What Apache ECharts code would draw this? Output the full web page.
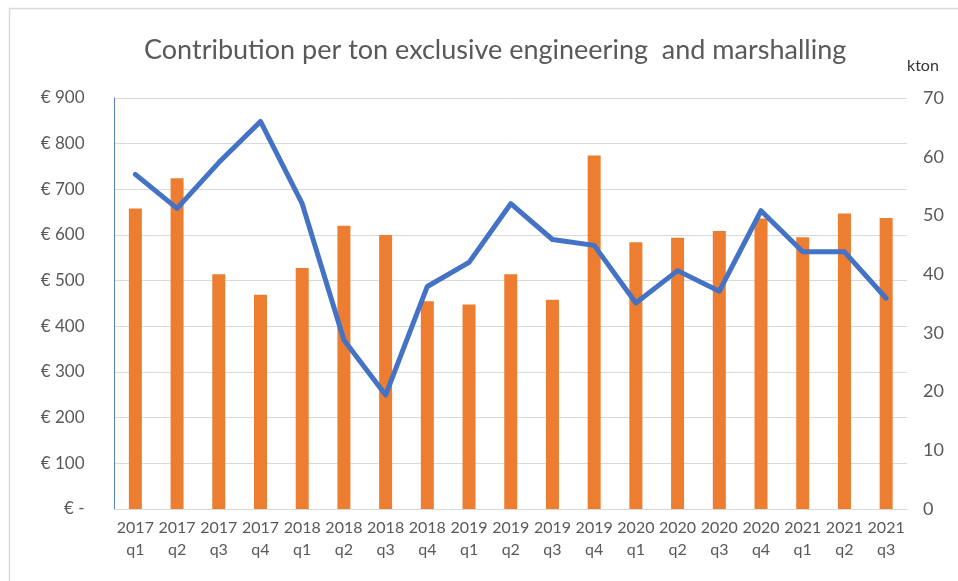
<!DOCTYPE html>
<html>
<head>
<meta charset="utf-8">
<script src="https://cdn.jsdelivr.net/npm/echarts@6/dist/echarts.min.js"></script>
<style>
html,body{margin:0;padding:0;background:#fff;}
#chart{width:958px;height:581px;}
</style>
</head>
<body>
<div id="chart"></div>
<script>
const categories = ['2017\nq1','2017\nq2','2017\nq3','2017\nq4','2018\nq1','2018\nq2','2018\nq3','2018\nq4','2019\nq1','2019\nq2','2019\nq3','2019\nq4','2020\nq1','2020\nq2','2020\nq3','2020\nq4','2021\nq1','2021\nq2','2021\nq3'];
const contributionEur = [658, 724, 514, 469, 528, 620, 600, 455, 448, 514, 458, 774, 584, 594, 609, 636, 595, 647, 637];
const volumeKton = [57.0, 51.2, 59.0, 66.0, 52.0, 28.8, 19.4, 37.9, 42.0, 52.0, 45.9, 44.9, 35.1, 40.6, 37.1, 50.8, 43.8, 43.8, 35.9];
const title = 'Contribution per ton exclusive engineering  and marshalling';
const rightUnit = 'kton';

const FONT = 'Lato, "Open Sans", sans-serif';
const chart = echarts.init(document.getElementById('chart'), null, {renderer:'canvas'});
chart.setOption({
  animation: false,
  backgroundColor: '#ffffff',
  title: {
    text: title,
    left: 139,
    top: 32,
    textStyle: {fontFamily: FONT, fontWeight: 'normal', fontSize: 27, color: '#595959'}
  },
  graphic: [
    {type:'line', shape:{x1:9, y1:8.5, x2:958, y2:8.5}, style:{stroke:'#d9d9d9', lineWidth:1.5}},
    {type:'line', shape:{x1:9.5, y1:8, x2:9.5, y2:581}, style:{stroke:'#d9d9d9', lineWidth:1.5}},
    {type:'text', left: 907, top: 58, style:{text: rightUnit, fontFamily: FONT, fontSize: 16, fill:'#333333'}}
  ],
  grid: {left: 114.5, right: 51, top: 98, bottom: 72, containLabel: false},
  xAxis: {
    type: 'category',
    data: categories,
    axisTick: {show: false},
    axisLine: {show: true, lineStyle: {color: '#d9d9d9', width: 1}},
    axisLabel: {interval: 0, margin: 8, fontFamily: FONT, fontSize: 16, lineHeight: 22, color: '#595959'}
  },
  yAxis: [
    {
      type: 'value', min: 0, max: 900, interval: 100,
      axisLine: {show: true, lineStyle: {color: '#5b7fbf', width: 1}},
      axisTick: {show: false},
      splitLine: {lineStyle: {color: '#d9d9d9', width: 1}},
      axisLabel: {margin: 30, fontFamily: FONT, fontSize: 17, color: '#595959',
        formatter: v => v === 0 ? '€ -' : '€ ' + v}
    },
    {
      type: 'value', min: 0, max: 70, interval: 10,
      axisLine: {show: false},
      axisTick: {show: false},
      splitLine: {show: false},
      axisLabel: {margin: 16, fontFamily: FONT, fontSize: 18, color: '#595959'}
    }
  ],
  series: [
    {
      name: 'Contribution per ton', type: 'bar', yAxisIndex: 0,
      data: contributionEur, barWidth: 13,
      itemStyle: {color: '#ED7D31'}
    },
    {
      name: 'Volume (kton)', type: 'line', yAxisIndex: 1,
      data: volumeKton, showSymbol: false, symbol: 'none',
      lineStyle: {color: '#4472C4', width: 5, join: 'round', cap: 'round'}
    }
  ]
});
</script>
</body>
</html>
